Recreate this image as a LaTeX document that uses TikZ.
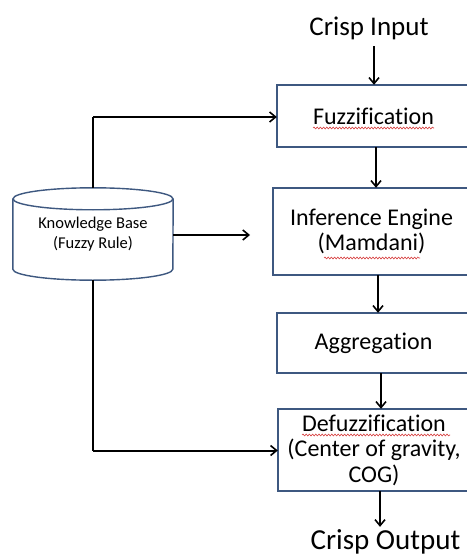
\documentclass[tikz,border=0pt]{standalone}
\usepackage{fontspec}
\setmainfont{Carlito}[Ligatures=NoCommon]
\usetikzlibrary{arrows.meta,calc,decorations.pathmorphing}
\definecolor{boxline}{RGB}{62,88,128}
\definecolor{spellred}{RGB}{215,60,60}
\tikzset{
  stagebox/.style={inner sep=0pt, align=center, font=\fontsize{24}{25.5}\selectfont},
  frame/.style={draw=boxline, line width=1.5pt},
  plain/.style={inner sep=0pt},
  flow/.style={draw=black, line width=2pt,
    -{Straight Barb[length=6pt,width=10pt,line width=1.6pt]}},
  link/.style={draw=black, line width=2pt},
  wavy/.style={draw=spellred, line width=0.6pt,
    decorate, decoration={snake, amplitude=0.9pt, segment length=3.2pt}},
}
\begin{document}
\begin{tikzpicture}[x=1pt,y=-1pt]
\useasboundingbox[fill=white] (0,0) rectangle (466,556);

% processing stages
\node[stagebox, minimum width=193pt, minimum height=62pt] (fuzz) at (373.5,116) {Fuzzification};
\node[stagebox, minimum width=197pt, minimum height=87pt] (inf) at (371.5,231.5) {Inference Engine\\(Mamdani)};
\node[stagebox, minimum width=193pt, minimum height=60pt] (agg) at (373.5,343) {Aggregation};
\node[stagebox, minimum width=192pt, minimum height=82pt] (defuzz) at (374,450) {Defuzzification\\(Center of gravity,\\COG)};

% stage frames, whose right sides run past the page edge
\foreach \s in {fuzz,inf,agg,defuzz}
  \draw[frame] (\s.north west) rectangle ($(\s.south east)+(14,0)$);

% input and output labels
\node[plain, anchor=base, font=\fontsize{27}{30}\selectfont] (cin) at (369,35.7) {Crisp Input};
\node[plain, anchor=base, font=\fontsize{29}{32}\selectfont] (cout) at (385.5,549) {Crisp Output};

% knowledge base drum
\node[plain, minimum width=160pt, minimum height=92pt, align=center,
  font=\fontsize{16.5}{20}\selectfont] (kb) at (93,234) {Knowledge Base\\(Fuzzy Rule)};
\draw[boxline, line width=1.4pt]
  ($(kb.north west)+(0,11)$) -- ($(kb.south west)+(0,-11)$)
  arc[start angle=180, end angle=360, x radius=80pt, y radius=11pt]
  -- ($(kb.north east)+(0,11)$);
\draw[boxline, line width=1.4pt] ($(kb.north)+(0,11)$) ellipse[x radius=80pt, y radius=11pt];

% spell-check underlines
\draw[wavy] (313,128) -- (434,128);
\draw[wavy] (324,258) -- (420,258);
\draw[wavy] (302,435) -- (450,435);

% x positions of the vertical flow arrows
\coordinate (a1) at (374,0);
\coordinate (a2) at (376,0);
\coordinate (a3) at (378,0);
\coordinate (a4) at (381,0);
\coordinate (a5) at (380,0);
\coordinate (kbtip) at (250,235);
\coordinate (kbtop) at (93,117);
\coordinate (kbbot) at (93,450.5);

% main flow
\draw[flow, shorten <=6pt] (cin.south -| a1) -- (fuzz.north -| a1);
\draw[flow] (fuzz.south -| a2) -- (inf.north -| a2);
\draw[flow] (inf.south -| a3) -- (agg.north -| a3);
\draw[flow] (agg.south -| a4) -- (defuzz.north -| a4);
\draw[flow, shorten >=2pt] (defuzz.south -| a5) -- (cout.north -| a5);

% knowledge base feeds
\draw[link] (kb.north) -- (kbtop);
\draw[flow] (kbtop) -- (kbtop -| fuzz.west);
\draw[flow] (kb.east |- kbtip) -- (kbtip);
\draw[link] (kb.south) -- (kbbot);
\draw[flow] (kbbot) -- (kbbot -| defuzz.west);
\end{tikzpicture}
\end{document}
